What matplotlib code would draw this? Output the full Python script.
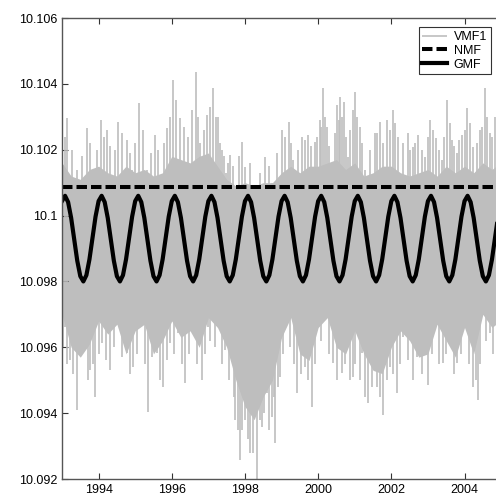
import numpy as np
import matplotlib
matplotlib.use("Agg")
import matplotlib.pyplot as plt

plt.rcParams['font.family'] = ['Liberation Sans', 'DejaVu Sans']

# VMF1 dense body: edges of the solid gray band (decimal year, value)
body_years = [1993.00, 1993.25, 1993.50, 1993.75, 1994.00, 1994.25, 1994.50, 1994.75,
              1995.00, 1995.25, 1995.50, 1995.75, 1996.00, 1996.25, 1996.50, 1996.75,
              1997.00, 1997.25, 1997.50, 1997.75, 1998.00, 1998.25, 1998.50, 1998.75,
              1999.00, 1999.25, 1999.50, 1999.75, 2000.00, 2000.25, 2000.50, 2000.75,
              2001.00, 2001.25, 2001.50, 2001.75, 2002.00, 2002.25, 2002.50, 2002.75,
              2003.00, 2003.25, 2003.50, 2003.75, 2004.00, 2004.25, 2004.50, 2004.75,
              2004.86]
body_upper = [10.1016, 10.1012, 10.1011, 10.1014, 10.1015, 10.1013, 10.1012, 10.1015,
              10.1013, 10.1014, 10.1012, 10.1013, 10.1018, 10.1017, 10.1016, 10.1018,
              10.1019, 10.1015, 10.1011, 10.1009, 10.1010, 10.1009, 10.1010, 10.1010,
              10.1013, 10.1015, 10.1013, 10.1015, 10.1015, 10.1016, 10.1017, 10.1014,
              10.1016, 10.1012, 10.1013, 10.1015, 10.1015, 10.1013, 10.1012, 10.1013,
              10.1014, 10.1012, 10.1015, 10.1013, 10.1015, 10.1013, 10.1016, 10.1014,
              10.1015]
body_lower = [10.0970, 10.0960, 10.0957, 10.0961, 10.0968, 10.0964, 10.0967, 10.0958,
              10.0965, 10.0967, 10.0958, 10.0962, 10.0968, 10.0963, 10.0965, 10.0960,
              10.0969, 10.0966, 10.0960, 10.0950, 10.0942, 10.0938, 10.0945, 10.0950,
              10.0963, 10.0969, 10.0958, 10.0956, 10.0966, 10.0969, 10.0960, 10.0958,
              10.0965, 10.0958, 10.0953, 10.0952, 10.0960, 10.0965, 10.0962, 10.0957,
              10.0958, 10.0967, 10.0962, 10.0957, 10.0966, 10.0958, 10.0970, 10.0966,
              10.0967]

# VMF1 spikes above the band
spike_up_years = [1993.00, 1993.07, 1993.14, 1993.28, 1993.41, 1993.55, 1993.68, 1993.77,
                  1993.85, 1993.96, 1994.07, 1994.15, 1994.23, 1994.31, 1994.39, 1994.46,
                  1994.53, 1994.65, 1994.78, 1994.85, 1994.91, 1995.00, 1995.10, 1995.21,
                  1995.32, 1995.43, 1995.54, 1995.61, 1995.68, 1995.78, 1995.87, 1995.95,
                  1996.03, 1996.12, 1996.22, 1996.33, 1996.44, 1996.55, 1996.66, 1996.71,
                  1996.77, 1996.87, 1996.96, 1997.05, 1997.13, 1997.20, 1997.26, 1997.32,
                  1997.37, 1997.43, 1997.48, 1997.53, 1997.59, 1997.66, 1997.73, 1997.83,
                  1997.92, 1998.00, 1998.13, 1998.27, 1998.41, 1998.55, 1998.65, 1998.74,
                  1998.88, 1999.01, 1999.10, 1999.20, 1999.25, 1999.31, 1999.44, 1999.56,
                  1999.64, 1999.72, 1999.81, 1999.91, 1999.98, 2000.05, 2000.09, 2000.13,
                  2000.18, 2000.24, 2000.31, 2000.38, 2000.45, 2000.51, 2000.56, 2000.60,
                  2000.65, 2000.70, 2000.76, 2000.81, 2000.88, 2000.95, 2001.01, 2001.07,
                  2001.14, 2001.21, 2001.28, 2001.42, 2001.55, 2001.62, 2001.69, 2001.78,
                  2001.88, 2001.96, 2002.04, 2002.11, 2002.18, 2002.31, 2002.45, 2002.52,
                  2002.59, 2002.66, 2002.73, 2002.83, 2002.92, 2002.99, 2003.05, 2003.13,
                  2003.22, 2003.30, 2003.38, 2003.45, 2003.52, 2003.59, 2003.66, 2003.72,
                  2003.79, 2003.86, 2003.93, 2004.00, 2004.07, 2004.15, 2004.23, 2004.33,
                  2004.42, 2004.49, 2004.56, 2004.62, 2004.69, 2004.76, 2004.84]
spike_up = [10.10260, 10.1024, 10.10297, 10.1020, 10.10139, 10.1018, 10.10266, 10.1022,
            10.10117, 10.1020, 10.10290, 10.1024, 10.10260, 10.1021, 10.10117, 10.1020,
            10.10284, 10.1025, 10.10230, 10.1019, 10.10139, 10.1022, 10.10342, 10.1026,
            10.10139, 10.1019, 10.10245, 10.1020, 10.10108, 10.1022, 10.10266, 10.1030,
            10.10412, 10.1035, 10.10297, 10.1027, 10.10239, 10.1032, 10.10436, 10.1030,
            10.10221, 10.1026, 10.10306, 10.1033, 10.10388, 10.1030, 10.10300, 10.1022,
            10.10199, 10.1018, 10.10130, 10.1016, 10.10184, 10.1015, 10.10087, 10.1018,
            10.10224, 10.10148, 10.1016, 10.10087, 10.1013, 10.10178, 10.1015, 10.10099,
            10.1019, 10.10260, 10.1024, 10.10284, 10.1022, 10.10169, 10.1020, 10.10239,
            10.1023, 10.10245, 10.1021, 10.10224, 10.1024, 10.10290, 10.1027, 10.10388,
            10.1030, 10.10269, 10.1021, 10.10108, 10.1025, 10.10336, 10.1029, 10.10360,
            10.1030, 10.10345, 10.1024, 10.10178, 10.1026, 10.10321, 10.10375, 10.1030,
            10.10269, 10.1022, 10.10139, 10.1020, 10.10251, 10.1025, 10.10284, 10.1022,
            10.10290, 10.1026, 10.10321, 10.1028, 10.10239, 10.1022, 10.10251, 10.1020,
            10.10209, 10.1022, 10.10245, 10.1020, 10.10178, 10.1024, 10.10290, 10.1026,
            10.10236, 10.1020, 10.10169, 10.1024, 10.10351, 10.1028, 10.10230, 10.1021,
            10.10190, 10.1023, 10.10245, 10.1026, 10.10327, 10.1028, 10.10209, 10.1022,
            10.10260, 10.1027, 10.10388, 10.1030, 10.10251, 10.1024, 10.10300]

# VMF1 spikes below the band
spike_down_years = [1993.04, 1993.08, 1993.15, 1993.22, 1993.31, 1993.41, 1993.52, 1993.63,
                    1993.70, 1993.77, 1993.84, 1993.90, 1994.00, 1994.09, 1994.20, 1994.31,
                    1994.42, 1994.53, 1994.65, 1994.78, 1994.86, 1994.94, 1995.06, 1995.19,
                    1995.27, 1995.35, 1995.47, 1995.60, 1995.68, 1995.76, 1995.86, 1995.95,
                    1996.06, 1996.17, 1996.27, 1996.36, 1996.47, 1996.58, 1996.70, 1996.83,
                    1996.91, 1996.99, 1997.05, 1997.10, 1997.18, 1997.26, 1997.36, 1997.45,
                    1997.55, 1997.64, 1997.69, 1997.73, 1997.80, 1997.86, 1997.93, 1998.00,
                    1998.07, 1998.14, 1998.23, 1998.33, 1998.40, 1998.46, 1998.53, 1998.60,
                    1998.67, 1998.74, 1998.78, 1998.82, 1998.90, 1998.96, 1999.05, 1999.15,
                    1999.22, 1999.28, 1999.35, 1999.42, 1999.53, 1999.64, 1999.73, 1999.83,
                    1999.91, 1999.99, 2000.09, 2000.19, 2000.30, 2000.40, 2000.52, 2000.65,
                    2000.73, 2000.81, 2000.88, 2000.95, 2001.00, 2001.06, 2001.13, 2001.20,
                    2001.28, 2001.36, 2001.48, 2001.61, 2001.69, 2001.77, 2001.87, 2001.96,
                    2002.05, 2002.15, 2002.24, 2002.32, 2002.45, 2002.60, 2002.70, 2002.85,
                    2003.00, 2003.10, 2003.19, 2003.30, 2003.41, 2003.50, 2003.60, 2003.70,
                    2003.79, 2003.90, 2004.01, 2004.12, 2004.23, 2004.30, 2004.37, 2004.43,
                    2004.50, 2004.60, 2004.69, 2004.78, 2004.84]
spike_down = [10.0960, 10.09662, 10.0955, 10.09562, 10.0952, 10.09410, 10.0958, 10.09592,
              10.0950, 10.09532, 10.0955, 10.09450, 10.0958, 10.09614, 10.0956, 10.09532,
              10.0960, 10.09693, 10.0957, 10.09583, 10.0952, 10.09541, 10.0958, 10.09683,
              10.0955, 10.09404, 10.0957, 10.09583, 10.0950, 10.09480, 10.0956, 10.09614,
              10.0958, 10.09644, 10.0955, 10.09492, 10.0958, 10.09662, 10.0955, 10.09501,
              10.0958, 10.09662, 10.0962, 10.09714, 10.0960, 10.09662, 10.0955, 10.09592,
              10.0950, 10.09583, 10.0945, 10.09380, 10.0935, 10.09259, 10.0935, 10.09380,
              10.0932, 10.09280, 10.0928, 10.09198, 10.0938, 10.09359, 10.0940, 10.09462,
              10.0935, 10.09389, 10.0945, 10.09310, 10.0948, 10.09510, 10.0958, 10.09693,
              10.0960, 10.09714, 10.0955, 10.09462, 10.0952, 10.09541, 10.0950, 10.09419,
              10.0955, 10.09662, 10.0962, 10.09735, 10.0958, 10.09553, 10.0950, 10.09523,
              10.0955, 10.09602, 10.0950, 10.09510, 10.0955, 10.09662, 10.0950, 10.09583,
              10.0945, 10.09432, 10.0948, 10.09480, 10.0945, 10.09395, 10.0950, 10.09541,
              10.0952, 10.09462, 10.0955, 10.09632, 10.0956, 10.0950, 10.09571, 10.0952,
              10.09486, 10.0958, 10.09714, 10.0955, 10.09553, 10.0958, 10.09623, 10.0952,
              10.09553, 10.0958, 10.09662, 10.0955, 10.09480, 10.0950, 10.09441, 10.0955,
              10.09765, 10.0962, 10.09644, 10.0958, 10.09683]

# NMF: constant value
nmf_years = [1993.0, 2004.86]
nmf_values = [10.10087, 10.10087]

# GMF: one annual cycle read at the start of each month, same every year
gmf_cycle = [10.10044, 10.10060, 10.10041, 10.09993, 10.09927, 10.09863,
             10.09816, 10.09800, 10.09819, 10.09867, 10.09933, 10.09997]
gmf_first_year = 1993
gmf_n_years = 12

xticks = [1994, 1996, 1998, 2000, 2002, 2004]
xtick_labels = ['1994', '1996', '1998', '2000', '2002', '2004']
yticks = [10.092, 10.094, 10.096, 10.098, 10.1, 10.102, 10.104, 10.106]
ytick_labels = ['10.092', '10.094', '10.096', '10.098', '10.1', '10.102', '10.104', '10.106']

fig = plt.figure(figsize=(4.96, 5.0), dpi=100)
ax = fig.add_axes([0.125, 0.042, 0.875, 0.922])

gray = '#bebebe'
band_mid = 10.0993  # spikes start inside the solid band

ax.fill_between(body_years, body_lower, body_upper, color=gray, lw=0)
ax.vlines(spike_up_years, band_mid, spike_up, color=gray, lw=1.2, label='VMF1')
ax.vlines(spike_down_years, spike_down, band_mid, color=gray, lw=1.2)

ax.plot(nmf_years, nmf_values, color='black', lw=2.9, dashes=(2.6, 1.0),
        dash_capstyle='butt', label='NMF')

gmf_t = gmf_first_year + np.arange(12 * gmf_n_years + 1) / 12
gmf_v = np.tile(gmf_cycle, gmf_n_years + 1)[:len(gmf_t)]
ax.plot(gmf_t, gmf_v, color='black', lw=3.0, label='GMF')

ax.set_xlim(1993.0, 2004.86)
ax.set_ylim(10.092, 10.106)
ax.set_xticks(xticks)
ax.set_xticklabels(xtick_labels)
ax.set_yticks(yticks)
ax.set_yticklabels(ytick_labels)
ax.tick_params(direction='in', length=4, width=0.8, labelsize=9, top=True,
               right=False, colors='#333333', labelcolor='black')

for side in ['left', 'bottom', 'top']:
    ax.spines[side].set_color('#555555')
    ax.spines[side].set_linewidth(1.0)
ax.spines['right'].set_visible(False)

leg = ax.legend(loc='upper right', bbox_to_anchor=(0.988, 0.98), borderaxespad=0,
                fontsize=9, frameon=True, fancybox=False, handlelength=2.0,
                labelspacing=0.15, borderpad=0.3, handletextpad=0.5)
leg.get_frame().set_edgecolor('black')
leg.get_frame().set_linewidth(0.8)

fig.savefig('out.png', dpi=100)
